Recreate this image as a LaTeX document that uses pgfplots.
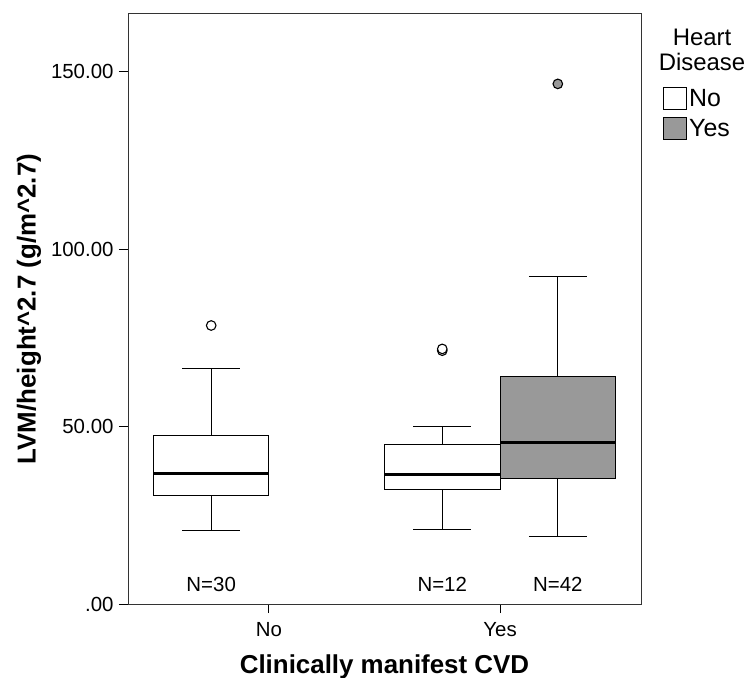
\documentclass[border=0pt]{standalone}
\usepackage{fontspec}
\setmainfont{Liberation Sans}
\usepackage{pgfplots}
\pgfplotsset{compat=1.18}
\definecolor{hdgrey}{RGB}{153,153,153}
\begin{document}
\begin{tikzpicture}
\path[use as bounding box] (0,0) rectangle (747bp,678bp);
\begin{axis}[
  at={(128bp,74bp)}, anchor=south west,
  scale only axis, width=513bp, height=590bp, clip=false,
  xmin=-0.61, xmax=1.61, ymin=0, ymax=166.3,
  axis line style={line width=1bp, black!80},
  xtick={0,1}, xticklabels={No,Yes},
  ytick={0,50,100,150}, yticklabels={.00,50.00,100.00,150.00},
  xtick pos=left, ytick pos=left,
  tick align=outside, major tick length=9bp,
  tick style={line width=1bp, black},
  ticklabel style={font=\fontsize{20.5}{24}\selectfont},
  xticklabel style={yshift=-6bp},
  yticklabel style={xshift=-2bp},
  xlabel={Clinically manifest CVD},
  ylabel={LVM/height\textasciicircum 2.7 (g/m\textasciicircum 2.7)},
  label style={font=\fontsize{26}{30}\selectfont\bfseries},
  xlabel style={at={(axis description cs:0.5,0)}, anchor=center, yshift=-63bp},
  ylabel style={at={(axis description cs:-0.193,0.5)}, anchor=center},
  unbounded coords=jump,
  legend style={at={(axis description cs:1,1)}, anchor=north west,
    xshift=19bp, yshift=-71bp, draw=none, fill=none, row sep=7bp,
    font=\fontsize{25}{25}\selectfont},
  legend cell align=left,
  legend image code/.code={\draw[#1] (0bp,-11bp) rectangle (23bp,11bp);},
]
\addlegendimage{draw=black, line width=1bp, fill=white}
\addlegendentry{No}
\addlegendimage{draw=black, line width=1bp, fill=hdgrey}
\addlegendentry{Yes}

% ---- CVD = No, Heart disease = No: LW 20.8, Q1 30.6, Med 36.8, Q3 47.4, UW 66.3, out 78.5
\addplot[draw=black, line width=1bp] coordinates {
  (-0.25,20.8) (-0.25,66.3) (nan,nan)
  (-0.375,20.8) (-0.125,20.8) (nan,nan)
  (-0.375,66.3) (-0.125,66.3)};
\addplot[draw=black, line width=1bp, fill=white] coordinates {
  (-0.5,30.6) (0,30.6) (0,47.4) (-0.5,47.4)} -- cycle;
\addplot[draw=black, line width=2.8bp] coordinates {(-0.5,36.8) (0,36.8)};
\addplot[only marks, mark=*, mark size=4.8bp,
  mark options={fill=white, draw=black, line width=1.1bp}]
  coordinates {(-0.25,78.5)};

% ---- CVD = Yes, Heart disease = No: LW 21.1, Q1 32.4, Med 36.4, Q3 45.0, UW 50.0, out 71.4, 71.9
\addplot[draw=black, line width=1bp] coordinates {
  (0.75,21.1) (0.75,50.0) (nan,nan)
  (0.625,21.1) (0.875,21.1) (nan,nan)
  (0.625,50.0) (0.875,50.0)};
\addplot[draw=black, line width=1bp, fill=white] coordinates {
  (0.5,32.4) (1.0,32.4) (1.0,45.0) (0.5,45.0)} -- cycle;
\addplot[draw=black, line width=2.8bp] coordinates {(0.5,36.4) (1.0,36.4)};
\addplot[only marks, mark=*, mark size=4.8bp,
  mark options={fill=white, draw=black, line width=1.1bp}]
  coordinates {(0.75,71.4) (0.75,71.9)};

% ---- CVD = Yes, Heart disease = Yes: LW 18.9, Q1 35.4, Med 45.6, Q3 64.0, UW 92.3, out 146.6
\addplot[draw=black, line width=1bp] coordinates {
  (1.25,18.9) (1.25,92.3) (nan,nan)
  (1.125,18.9) (1.375,18.9) (nan,nan)
  (1.125,92.3) (1.375,92.3)};
\addplot[draw=black, line width=1bp, fill=hdgrey] coordinates {
  (1.0,35.4) (1.5,35.4) (1.5,64.0) (1.0,64.0)} -- cycle;
\addplot[draw=black, line width=2.8bp] coordinates {(1.0,45.6) (1.5,45.6)};
\addplot[only marks, mark=*, mark size=4.8bp,
  mark options={fill=hdgrey, draw=black, line width=1.1bp}]
  coordinates {(1.25,146.6)};

\node[font=\fontsize{20.5}{24}\selectfont] at (axis cs:-0.25,5.4) {N=30};
\node[font=\fontsize{20.5}{24}\selectfont] at (axis cs:0.75,5.4) {N=12};
\node[font=\fontsize{20.5}{24}\selectfont] at (axis cs:1.25,5.4) {N=42};
\node[font=\fontsize{24}{24}\selectfont, anchor=base, inner sep=0pt,
  xshift=61bp, yshift=-32bp] at (axis description cs:1,1) {Heart};
\node[font=\fontsize{24}{24}\selectfont, anchor=base, inner sep=0pt,
  xshift=61bp, yshift=-57bp] at (axis description cs:1,1) {Disease};
\end{axis}
\end{tikzpicture}
\end{document}
